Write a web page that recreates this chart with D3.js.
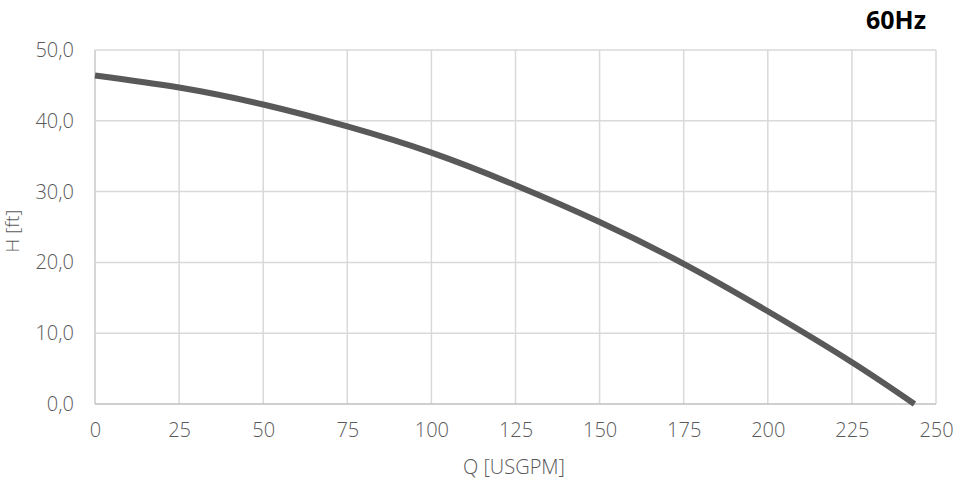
<!DOCTYPE html>
<html><head><meta charset="utf-8">
<script src="https://cdn.jsdelivr.net/npm/d3@7"></script>
<style>body{margin:0;background:#fff}svg{display:block}</style>
</head><body>
<svg id="c" width="970" height="495"></svg>
<script>
const flowQ = [0, 25, 50, 75, 100, 125, 150, 175, 200, 225, 243.6];
const headH = [46.4, 44.7, 42.3, 39.2, 35.5, 30.9, 25.7, 19.8, 13.1, 5.9, 0];
const xTicks = [0, 25, 50, 75, 100, 125, 150, 175, 200, 225, 250];
const yTicks = [0, 10, 20, 30, 40, 50];
const title = "60Hz", xLabel = "Q [USGPM]", yLabel = "H [ft]";

const svg = d3.select("#c");
const L = 95, R = 936, T = 50, B = 404;
const x = d3.scaleLinear().domain([0, 250]).range([L, R]);
const y = d3.scaleLinear().domain([0, 50]).range([B, T]);
const font = "'Open Sans', sans-serif";
const txt = "#595959";
const fs = "20px";

// grid
svg.append("g").selectAll("line").data(xTicks).join("line")
  .attr("x1", d => x(d)).attr("x2", d => x(d)).attr("y1", T).attr("y2", B)
  .attr("stroke", d => d === 0 ? "#c8c8c8" : "#d9d9d9").attr("stroke-width", 1.5);
svg.append("g").selectAll("line").data(yTicks).join("line")
  .attr("x1", L).attr("x2", R).attr("y1", d => y(d)).attr("y2", d => y(d))
  .attr("stroke", d => d === 0 ? "#bfbfbf" : "#d9d9d9").attr("stroke-width", 1.5);

// axes labels
const xa = svg.append("g").attr("transform", `translate(0,${B})`)
  .call(d3.axisBottom(x).tickValues(xTicks).tickSize(0).tickPadding(19).tickFormat(d3.format("d")));
xa.select(".domain").remove();
xa.selectAll("text").attr("fill", txt).style("font-family", font).style("font-size", fs).style("font-weight", 300);

const ya = svg.append("g").attr("transform", `translate(${L},0)`)
  .call(d3.axisLeft(y).tickValues(yTicks).tickSize(0).tickPadding(21).tickFormat(d => d.toFixed(1).replace(".", ",")));
ya.select(".domain").remove();
ya.selectAll("text").attr("fill", txt).style("font-family", font).style("font-size", fs).style("font-weight", 300);

// curve
const line = d3.line().x((d, i) => x(flowQ[i])).y(d => y(d)).curve(d3.curveNatural);
svg.append("path").datum(headH).attr("d", line)
  .attr("fill", "none").attr("stroke", "#595959").attr("stroke-width", 6).attr("stroke-linecap", "butt");

svg.append("text").attr("x", 514).attr("y", 474).attr("text-anchor", "middle")
  .attr("fill", txt).style("font-family", font).style("font-size", fs).style("font-weight", 300).text(xLabel);
svg.append("text").attr("transform", `translate(19,231) rotate(-90)`).attr("text-anchor", "middle")
  .attr("fill", txt).style("font-family", font).style("font-size", "19px").style("font-weight", 300).text(yLabel);
svg.append("text").attr("x", 926).attr("y", 29).attr("text-anchor", "end")
  .attr("fill", "#000").style("font-family", "'Noto Sans', sans-serif").style("font-size", "25px").style("font-weight", 700).text(title);
</script>
</body></html>
